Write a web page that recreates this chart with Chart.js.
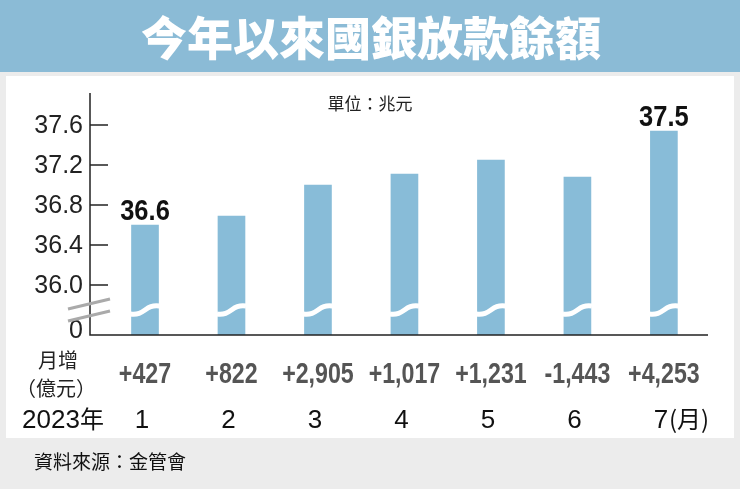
<!DOCTYPE html>
<html><head><meta charset="utf-8">
<script src="https://cdn.jsdelivr.net/npm/chart.js@4"></script>
<style>html,body{margin:0;padding:0;background:#ececec}canvas{display:block}</style>
</head><body>
<div style="width:740px;height:489px"><canvas id="c"></canvas></div>
<script>
const months = [1,2,3,4,5,6,7];
const monthLabels = ['1','2','3','4','5','6','7'];
const balances = [36.6,36.69,37.0,37.11,37.25,37.08,37.54];
const changes = ['+427','+822','+2,905','+1,017','+1,231','-1,443','+4,253'];
const yTicks = [36.0,36.4,36.8,37.2,37.6];
const valueLabels = {0:'36.6',6:'37.5'};
const BREAK_BASE = 35.5; // axis position labelled "0"

const F = '"Liberation Sans", Arial, sans-serif';
const CJK = '"Noto Sans CJK TC", sans-serif';

function narrow(c,s,x,y,k){c.save();c.translate(x,y);c.scale(k,1);c.fillText(s,0,0);c.restore();}

const deco = {
  id:'deco',
  beforeDraw(ch){
    const c=ch.ctx; c.save();
    c.fillStyle='#ececec'; c.fillRect(0,0,740,489);
    c.fillStyle='#8bbbd6'; c.fillRect(0,0,740,72);
    c.fillStyle='#ffffff'; c.fillRect(6,76,728,362);
    c.fillStyle='#ffffff'; c.font='900 46px '+CJK; c.textAlign='center'; c.textBaseline='middle';
    c.fillText('今年以來國銀放款餘額',371,38);
    c.restore();
  },
  afterDatasetsDraw(ch){
    const c=ch.ctx, x=ch.scales.x, y=ch.scales.y, a=ch.chartArea;
    c.save();
    const yb=y.getPixelForValue(35.75);
    ch.getDatasetMeta(0).data.forEach(b=>{
      const l=b.x-b.width/2-1, r=b.x+b.width/2+1;
      c.strokeStyle='#fff'; c.lineWidth=5;
      c.beginPath(); c.moveTo(l,yb+4);
      c.bezierCurveTo(b.x,yb+6,b.x,yb-6,r,yb-4); c.stroke();
    });
    c.strokeStyle='#222'; c.lineWidth=1.5;
    c.beginPath(); c.moveTo(a.left,a.top); c.lineTo(a.left,a.bottom); c.lineTo(a.right,a.bottom); c.stroke();
    c.fillStyle='#222'; c.font='25px '+F; c.textAlign='right'; c.textBaseline='middle';
    yTicks.forEach(t=>{const p=y.getPixelForValue(t);
      c.beginPath(); c.moveTo(a.left,p); c.lineTo(a.left+18,p); c.stroke();
      c.fillText(t.toFixed(1),a.left-7,p+1);});
    c.fillText('0',a.left-7,y.getPixelForValue(BREAK_BASE)-4);
    c.strokeStyle='#aaa'; c.lineWidth=3;
    [yb-6,yb+6].forEach(p=>{c.beginPath();c.moveTo(a.left-22,p+5);c.lineTo(a.left+20,p-5);c.stroke();});
    c.fillStyle='#111'; c.font='bold 30px '+F; c.textAlign='center'; c.textBaseline='bottom';
    Object.keys(valueLabels).forEach(i=>{
      narrow(c,valueLabels[i],x.getPixelForValue(months[i]),y.getPixelForValue(balances[i])+2,0.85);});
    c.font='17px '+CJK; c.fillStyle='#222'; c.textBaseline='middle';
    c.fillText('單位：兆元',370,104);
    c.font='bold 29px '+F; c.fillStyle='#555';
    changes.forEach((s,i)=>narrow(c,s,x.getPixelForValue(months[i]),375,0.8));
    c.font='20px '+CJK; c.fillStyle='#222';
    c.fillText('月增',58,360); c.fillText('（億元）',56,388);
    c.font='26px '+F; c.fillStyle='#111';
    monthLabels.forEach((s,i)=>c.fillText(s,x.getPixelForValue(months[i])-3,421));
    c.textAlign='left'; c.fillText('2023',22,421);
    c.font='24px '+CJK; c.fillText('年',80,419);
    c.fillText('(月)',669,419);
    c.font='19px '+CJK; c.fillText('資料來源：金管會',34,462);
    c.restore();
  }
};

new Chart(document.getElementById('c'),{
  type:'bar',
  data:{datasets:[{data:months.map((m,i)=>({x:m,y:balances[i]})),backgroundColor:'#88bcd8',barThickness:27,base:BREAK_BASE}]},
  options:{responsive:true,maintainAspectRatio:false,animation:false,
    layout:{padding:{left:90,right:32,top:93,bottom:154}},
    plugins:{legend:{display:false},tooltip:{enabled:false}},
    scales:{
      x:{type:'linear',display:false,offset:false,min:0.364,max:7.51},
      y:{display:false,min:BREAK_BASE,max:37.92}
    }},
  plugins:[deco]
});
</script></body></html>
